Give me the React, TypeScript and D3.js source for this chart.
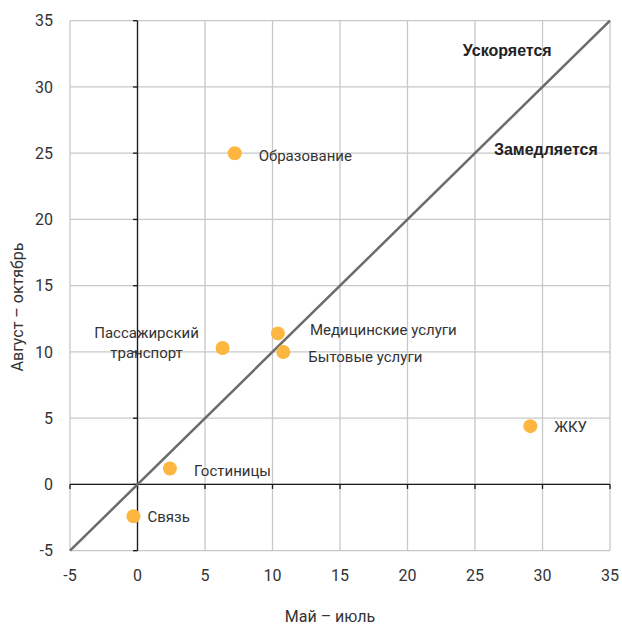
import React from "react";
import * as d3 from "d3";

const categories = ["Образование", "Пассажирский транспорт", "Медицинские услуги", "Бытовые услуги", "Гостиницы", "Связь", "ЖКУ"];
const xValues = [7.2, 6.3, 10.4, 10.8, 2.4, -0.3, 29.1];
const yValues = [25.0, 10.3, 11.4, 10.0, 1.2, -2.4, 4.4];
const ticks = [-5, 0, 5, 10, 15, 20, 25, 30, 35];
const xTitle = "Май – июль";
const yTitle = "Август – октябрь";
const zoneLabels = ["Ускоряется", "Замедляется"];

// label placement offsets (px) relative to the point
const labelOffsets: Record<string, { dx: number; dy: number; anchor?: string; lines?: string[] }> = {
  "Образование": { dx: 24, dy: 8 },
  "Пассажирский транспорт": { dx: -76, dy: -2, anchor: "middle", lines: ["Пассажирский", "транспорт"] },
  "Медицинские услуги": { dx: 32, dy: 2 },
  "Бытовые услуги": { dx: 25, dy: 10 },
  "Гостиницы": { dx: 24, dy: 7 },
  "Связь": { dx: 14, dy: 6 },
  "ЖКУ": { dx: 24, dy: 6 },
};

const W = 622, H = 625;
const L = 70, R = 610, T = 20.7, B = 550.7;

export default function App() {
  const x = d3.scaleLinear().domain([-5, 35]).range([L, R]);
  const y = d3.scaleLinear().domain([-5, 35]).range([B, T]);
  const font = "Roboto, 'Noto Sans', sans-serif";
  const textColor = "#333";
  const grid = "#c8c8c8";
  const line = d3.line<number>().x((d) => x(d)).y((d) => y(d));
  return (
    <svg width={W} height={H} style={{ position: "absolute", left: 0, top: 0, background: "#fff" }}>
      {/* grid */}
      {ticks.map((t) => (
        <line key={"gx" + t} x1={x(t)} x2={x(t)} y1={T} y2={B} stroke={grid} strokeWidth={1.3} />
      ))}
      {ticks.map((t) => (
        <line key={"gy" + t} x1={L} x2={R} y1={y(t)} y2={y(t)} stroke={grid} strokeWidth={1.3} />
      ))}
      {/* zero axes */}
      <line x1={x(0)} x2={x(0)} y1={T} y2={B} stroke="#1a1a1a" strokeWidth={1.3} />
      <line x1={L} x2={R} y1={y(0)} y2={y(0)} stroke="#1a1a1a" strokeWidth={1.3} />
      {ticks.map((t) => (
        <line key={"ty" + t} x1={x(0) - 4.5} x2={x(0)} y1={y(t)} y2={y(t)} stroke="#1a1a1a" strokeWidth={1.3} />
      ))}
      {ticks.map((t) => (
        <line key={"tx" + t} x1={x(t)} x2={x(t)} y1={y(0)} y2={y(0) + 4.5} stroke="#1a1a1a" strokeWidth={1.3} />
      ))}
      {/* diagonal */}
      <path d={line([-5, 35]) || ""} stroke="#6b6b6b" strokeWidth={2.5} fill="none" />
      {/* tick labels */}
      {ticks.map((t) => (
        <text key={"ly" + t} x={L - 17} y={y(t)} dy="0.35em" textAnchor="end" fontFamily={font} fontSize={16} fill={textColor}>
          {t}
        </text>
      ))}
      {ticks.map((t) => (
        <text key={"lx" + t} x={x(t)} y={575} dy="0.35em" textAnchor="middle" fontFamily={font} fontSize={16} fill={textColor}>
          {t}
        </text>
      ))}
      {/* axis titles */}
      <text x={330} y={622} textAnchor="middle" fontFamily={font} fontSize={16} fill={textColor}>{xTitle}</text>
      <text transform={`translate(23,307) rotate(-90)`} textAnchor="middle" fontFamily={font} fontSize={16} fill={textColor}>{yTitle}</text>
      {/* zone labels */}
      <text x={x(24.1)} y={y(32.3)} fontFamily="'Liberation Sans', Arial, sans-serif" fontWeight="bold" fontSize={16} fill="#222">{zoneLabels[0]}</text>
      <text x={x(26.4)} y={y(24.85)} fontFamily="'Liberation Sans', Arial, sans-serif" fontWeight="bold" fontSize={16} fill="#222">{zoneLabels[1]}</text>
      {/* points */}
      {categories.map((c, i) => (
        <circle key={"p" + c} cx={x(xValues[i])} cy={y(yValues[i])} r={7} fill="#FDB740" />
      ))}
      {categories.map((c, i) => {
        const o = labelOffsets[c];
        const px = x(xValues[i]) + o.dx;
        const py = y(yValues[i]) + o.dy;
        const lines = o.lines || [c];
        return (
          <text key={"t" + c} x={px} y={py} textAnchor={o.anchor || "start"} fontFamily={font} fontSize={15} fill={textColor}>
            {lines.map((ln, j) => (
              <tspan key={j} x={px} dy={j === 0 ? (lines.length > 1 ? -8 : 0) : 20}>{ln}</tspan>
            ))}
          </text>
        );
      })}
    </svg>
  );
}
